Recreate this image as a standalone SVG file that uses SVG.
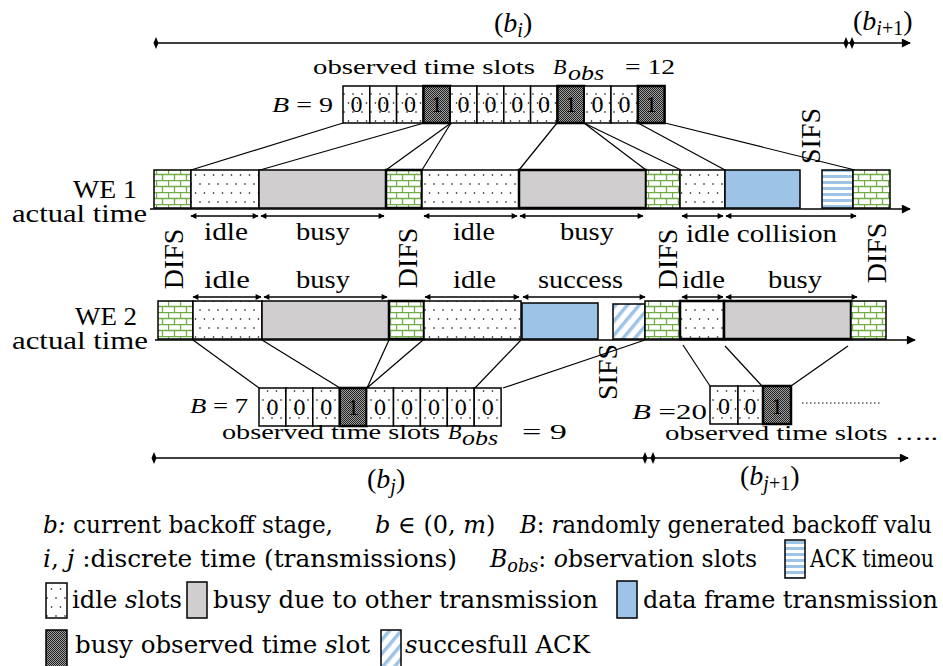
<svg xmlns="http://www.w3.org/2000/svg" width="943" height="666" viewBox="0 0 943 666">
<style>
.t{font-family:"Liberation Serif","Times New Roman",serif;font-size:28px;fill:#000}
.s{font-family:"Liberation Serif","Times New Roman",serif;font-size:25px;fill:#000}
.m{font-family:"Liberation Serif","Times New Roman",serif;font-size:22px;fill:#000}
.lg{font-family:"DejaVu Serif","Liberation Serif",serif;font-size:24px;fill:#000}
.it{font-style:italic}
.d{font-family:"Liberation Serif",serif;font-size:24px;text-anchor:middle}
.box{stroke:#000;stroke-width:1.5}
.thk{stroke:#000;stroke-width:2.5}
.c{stroke:#000;stroke-width:1.2;fill:none}
.ax{stroke:#000;stroke-width:1.6;fill:none}
.da{stroke:#000;stroke-width:1.3;fill:none;marker-start:url(#ah);marker-end:url(#ah)}
</style>
<defs>
<pattern id="brick" width="12" height="12" patternUnits="userSpaceOnUse">
<rect width="12" height="12" fill="#fff"/>
<path d="M0 0.5H12M0 6.5H12M0.5 0.5V6.5M6.5 6.5V12.5" stroke="#70ad47" stroke-width="1.3" fill="none"/>
</pattern>
<pattern id="dots" width="9" height="18" patternUnits="userSpaceOnUse">
<rect width="9" height="18" fill="#fff"/>
<circle cx="2" cy="4" r="0.8" fill="#000"/>
<circle cx="6.5" cy="13" r="0.8" fill="#000"/>
</pattern>
<pattern id="dark" width="2" height="2" patternUnits="userSpaceOnUse">
<rect width="2" height="2" fill="#a0a0a0"/>
<rect width="1" height="1" fill="#222"/>
<rect x="1" y="1" width="1" height="1" fill="#222"/>
</pattern>
<pattern id="hs" width="6" height="6" patternUnits="userSpaceOnUse">
<rect width="6" height="6" fill="#fff"/>
<rect y="1" width="6" height="3" fill="#9dc3e6"/>
</pattern>
<pattern id="ds" width="9" height="9" patternUnits="userSpaceOnUse" patternTransform="rotate(40)">
<rect width="9" height="9" fill="#fff"/>
<rect width="3.5" height="9" fill="#9dc3e6"/>
</pattern>
<marker id="ah" viewBox="0 0 10 10" refX="9" refY="5" markerWidth="7" markerHeight="6" markerUnits="userSpaceOnUse" orient="auto-start-reverse">
<path d="M0 0L10 5L0 10z" fill="#000"/>
</marker>
<marker id="axh" viewBox="0 0 10 10" refX="9" refY="5" markerWidth="12" markerHeight="9" markerUnits="userSpaceOnUse" orient="auto">
<path d="M0 0L10 5L0 10z" fill="#000"/>
</marker>
</defs>

<g id="timeline-top">
<line class="ax" x1="156" y1="43" x2="910" y2="43" marker-end="url(#axh)"/>
<path d="M156 37L158.5 43L156 49L153.5 43z M846 37L848.5 43L846 49L843.5 43z M852 37L854.5 43L852 49L849.5 43z" fill="#000"/>
<text class="t" x="494" y="32">(<tspan class="it">b</tspan><tspan class="it" font-size="20" dy="5">i</tspan><tspan dy="-5">)</tspan></text>
<text class="t" x="853" y="30">(<tspan class="it">b</tspan><tspan class="it" font-size="20" dy="5">i</tspan><tspan font-size="20">+1</tspan><tspan dy="-5">)</tspan></text>
</g>

<g id="slots-top">
<text class="m" x="313" y="74" textLength="222" lengthAdjust="spacingAndGlyphs">observed time slots</text>
<text class="m it" x="553" y="74" font-size="24">B</text>
<text class="m it" x="568" y="80" font-size="20" textLength="36" lengthAdjust="spacingAndGlyphs">obs</text>
<text class="m" x="625" y="74" font-size="24" textLength="50" lengthAdjust="spacingAndGlyphs">= 12</text>
<text class="m" x="272" y="112" textLength="61" lengthAdjust="spacingAndGlyphs"><tspan class="it">B</tspan> = 9</text>
<g>
<rect class="box" x="343" y="86" width="26.8" height="37" fill="url(#dots)"/>
<rect class="box" x="369.8" y="86" width="26.8" height="37" fill="url(#dots)"/>
<rect class="box" x="396.6" y="86" width="26.8" height="37" fill="url(#dots)"/>
<rect class="thk" x="423.4" y="86" width="26.8" height="37" fill="url(#dark)"/>
<rect class="box" x="450.2" y="86" width="26.8" height="37" fill="url(#dots)"/>
<rect class="box" x="477" y="86" width="26.8" height="37" fill="url(#dots)"/>
<rect class="box" x="503.8" y="86" width="26.8" height="37" fill="url(#dots)"/>
<rect class="box" x="530.6" y="86" width="26.8" height="37" fill="url(#dots)"/>
<rect class="thk" x="557.4" y="86" width="26.8" height="37" fill="url(#dark)"/>
<rect class="box" x="584.2" y="86" width="26.8" height="37" fill="url(#dots)"/>
<rect class="box" x="611" y="86" width="26.8" height="37" fill="url(#dots)"/>
<rect class="thk" x="637.8" y="86" width="26.8" height="37" fill="url(#dark)"/>
</g>
<g class="d">
<text x="356.4" y="112">0</text><text x="383.2" y="112">0</text><text x="410" y="112">0</text><text x="436.8" y="112">1</text>
<text x="463.6" y="112">0</text><text x="490.4" y="112">0</text><text x="517.2" y="112">0</text><text x="544" y="112">0</text>
<text x="570.8" y="112">1</text><text x="597.6" y="112">0</text><text x="624.4" y="112">0</text><text x="651.2" y="112">1</text>
</g>
</g>

<g id="connectors">
<line class="c" x1="343" y1="123" x2="191" y2="170"/>
<line class="c" x1="424" y1="123" x2="260" y2="170"/>
<line class="c" x1="451" y1="123" x2="386" y2="170"/>
<line class="c" x1="451" y1="123" x2="422" y2="170"/>
<line class="c" x1="557" y1="123" x2="519" y2="170"/>
<line class="c" x1="584" y1="123" x2="646" y2="170"/>
<line class="c" x1="584" y1="123" x2="681" y2="170"/>
<line class="c" x1="638" y1="123" x2="725" y2="170"/>
<line class="c" x1="665" y1="123" x2="855" y2="170"/>
<line class="c" x1="193" y1="340" x2="259" y2="388"/>
<line class="c" x1="262" y1="340" x2="340" y2="388"/>
<line class="c" x1="389" y1="340" x2="367" y2="388"/>
<line class="c" x1="423" y1="340" x2="367" y2="388"/>
<line class="c" x1="521" y1="340" x2="475" y2="388"/>
<line class="c" x1="645" y1="340" x2="503" y2="388"/>
<line class="c" x1="683" y1="345" x2="710" y2="386"/>
<line class="c" x1="725" y1="346" x2="762" y2="386"/>
<line class="c" x1="848" y1="346" x2="791" y2="386"/>
</g>

<g id="we1">
<text class="s" x="137" y="198" text-anchor="end" textLength="64" lengthAdjust="spacingAndGlyphs">WE 1</text>
<text class="s" x="147" y="222" text-anchor="end" textLength="135" lengthAdjust="spacingAndGlyphs">actual time</text>
<line class="ax" x1="150" y1="209" x2="910" y2="209" marker-end="url(#axh)"/>
<rect class="box" x="154" y="170" width="37" height="38" fill="url(#brick)"/>
<rect class="box" x="191" y="170" width="68" height="38" fill="url(#dots)"/>
<rect class="box" x="259" y="170" width="127" height="38" fill="#d0cece"/>
<rect class="thk" x="386" y="170" width="36" height="38" fill="url(#brick)"/>
<rect class="box" x="422" y="170" width="97" height="38" fill="url(#dots)"/>
<rect class="thk" x="519" y="170" width="127" height="38" fill="#d0cece"/>
<rect class="box" x="646" y="170" width="34" height="38" fill="url(#brick)"/>
<rect class="box" x="680" y="170" width="45" height="38" fill="url(#dots)"/>
<rect class="box" x="725" y="170" width="75" height="38" fill="#9dc3e6"/>
<rect class="box" x="822" y="170" width="31" height="38" fill="url(#hs)"/>
<rect class="box" x="853" y="170" width="37" height="38" fill="url(#brick)"/>
<line class="da" x1="191" y1="216" x2="258" y2="216"/>
<line class="da" x1="261" y1="216" x2="384" y2="216"/>
<line class="da" x1="424" y1="216" x2="517" y2="216"/>
<line class="da" x1="520" y1="216" x2="643" y2="216"/>
<line class="da" x1="682" y1="216" x2="723" y2="216"/>
<line class="da" x1="726" y1="216" x2="856" y2="216"/>
<g class="s">
<text x="204" y="240" textLength="44" lengthAdjust="spacingAndGlyphs">idle</text>
<text x="296" y="240" textLength="54" lengthAdjust="spacingAndGlyphs">busy</text>
<text x="453" y="240" textLength="42" lengthAdjust="spacingAndGlyphs">idle</text>
<text x="560" y="240" textLength="54" lengthAdjust="spacingAndGlyphs">busy</text>
<text x="686" y="242" textLength="151" lengthAdjust="spacingAndGlyphs">idle collision</text>
</g>
<text class="t" text-anchor="middle" transform="translate(820,136) rotate(-90)">SIFS</text>
</g>

<g id="difs-labels" class="t" text-anchor="middle">
<text transform="translate(183,259) rotate(-90)">DIFS</text>
<text transform="translate(417,258) rotate(-90)">DIFS</text>
<text transform="translate(677,259) rotate(-90)">DIFS</text>
<text transform="translate(886,253) rotate(-90)">DIFS</text>
</g>

<g id="we2">
<text class="s" x="137" y="325" font-size="23" text-anchor="end" textLength="62" lengthAdjust="spacingAndGlyphs">WE 2</text>
<text class="s" x="148" y="349" font-size="23" text-anchor="end" textLength="136" lengthAdjust="spacingAndGlyphs">actual time</text>
<line class="ax" x1="155" y1="340" x2="915" y2="340" marker-end="url(#axh)"/>
<rect class="box" x="158" y="301" width="35" height="38" fill="url(#brick)"/>
<rect class="box" x="193" y="301" width="69" height="38" fill="url(#dots)"/>
<rect class="box" x="262" y="301" width="127" height="38" fill="#d0cece"/>
<rect class="thk" x="389" y="301" width="35" height="38" fill="url(#brick)"/>
<rect class="box" x="424" y="301" width="97" height="38" fill="url(#dots)"/>
<rect class="box" x="522" y="303" width="76" height="36" fill="#9dc3e6"/>
<rect class="box" x="613" y="304" width="32" height="35" fill="url(#ds)"/>
<rect class="box" x="645" y="301" width="35" height="38" fill="url(#brick)"/>
<rect class="thk" x="680" y="301" width="44" height="38" fill="url(#dots)"/>
<rect class="thk" x="724" y="301" width="127" height="38" fill="#d0cece"/>
<rect class="box" x="851" y="301" width="35" height="38" fill="url(#brick)"/>
<line class="da" x1="193" y1="297" x2="261" y2="297"/>
<line class="da" x1="264" y1="297" x2="387" y2="297"/>
<line class="da" x1="425" y1="297" x2="519" y2="297"/>
<line class="da" x1="523" y1="297" x2="645" y2="297"/>
<line class="da" x1="682" y1="297" x2="723" y2="297"/>
<line class="da" x1="726" y1="297" x2="857" y2="297"/>
<g class="s">
<text x="204" y="288" textLength="46" lengthAdjust="spacingAndGlyphs">idle</text>
<text x="296" y="288" textLength="54" lengthAdjust="spacingAndGlyphs">busy</text>
<text x="453" y="288" textLength="43" lengthAdjust="spacingAndGlyphs">idle</text>
<text x="538" y="288" textLength="85" lengthAdjust="spacingAndGlyphs">success</text>
<text x="682" y="288" textLength="43" lengthAdjust="spacingAndGlyphs">idle</text>
<text x="768" y="288" textLength="54" lengthAdjust="spacingAndGlyphs">busy</text>
</g>
<text class="t" text-anchor="middle" transform="translate(617,372) rotate(-90)">SIFS</text>
</g>

<g id="slots-bottom">
<text class="m" x="190" y="413" textLength="58" lengthAdjust="spacingAndGlyphs"><tspan class="it">B</tspan> = 7</text>
<rect class="box" x="259" y="388" width="26.9" height="38" fill="url(#dots)"/>
<rect class="box" x="285.9" y="388" width="26.9" height="38" fill="url(#dots)"/>
<rect class="box" x="312.8" y="388" width="26.9" height="38" fill="url(#dots)"/>
<rect class="thk" x="339.7" y="388" width="26.9" height="38" fill="url(#dark)"/>
<rect class="box" x="366.6" y="388" width="26.9" height="38" fill="url(#dots)"/>
<rect class="box" x="393.5" y="388" width="26.9" height="38" fill="url(#dots)"/>
<rect class="box" x="420.4" y="388" width="26.9" height="38" fill="url(#dots)"/>
<rect class="box" x="447.3" y="388" width="26.9" height="38" fill="url(#dots)"/>
<rect class="box" x="474.2" y="388" width="26.9" height="38" fill="url(#dots)"/>
<g class="d">
<text x="272.5" y="415">0</text><text x="299.4" y="415">0</text><text x="326.3" y="415">0</text><text x="353.2" y="415">1</text>
<text x="380.1" y="415">0</text><text x="407" y="415">0</text><text x="433.9" y="415">0</text><text x="460.8" y="415">0</text><text x="487.7" y="415">0</text>
</g>
<text class="m" x="222" y="439" font-size="21" textLength="218" lengthAdjust="spacingAndGlyphs">observed time slots</text>
<text class="m it" x="448" y="439" font-size="23">B</text>
<text class="m it" x="462" y="445" font-size="19" textLength="36" lengthAdjust="spacingAndGlyphs">obs</text>
<text class="m" x="522" y="439" font-size="23" textLength="45" lengthAdjust="spacingAndGlyphs">= 9</text>
</g>

<g id="slots-bottom2">
<text class="m" x="632" y="419" font-size="20" textLength="75" lengthAdjust="spacingAndGlyphs"><tspan class="it">B</tspan> =20</text>
<rect class="box" x="710" y="386" width="28" height="38" fill="url(#dots)"/>
<rect class="box" x="738" y="386" width="25" height="38" fill="url(#dots)"/>
<rect class="thk" x="763" y="386" width="28" height="38" fill="url(#dark)"/>
<g class="d">
<text x="724" y="414">0</text><text x="750.5" y="414">0</text><text x="777" y="414">1</text>
</g>
<line x1="802" y1="403" x2="880" y2="403" stroke="#000" stroke-width="1.2" stroke-dasharray="1.5 2.5"/>
<text class="m" x="665" y="440" font-size="19" textLength="273" lengthAdjust="spacingAndGlyphs">observed time slots …..</text>
</g>

<g id="timeline-bottom">
<line class="ax" x1="154" y1="458" x2="908" y2="458" marker-end="url(#axh)"/>
<path d="M154 452L156.5 458L154 464L151.5 458z M645 452L647.5 458L645 464L642.5 458z M653 452L655.5 458L653 464L650.5 458z" fill="#000"/>
<text class="t" x="367" y="488">(<tspan class="it">b</tspan><tspan class="it" font-size="20" dy="5">j</tspan><tspan dy="-5">)</tspan></text>
<text class="t" x="740" y="485">(<tspan class="it">b</tspan><tspan class="it" font-size="20" dy="5">j</tspan><tspan font-size="20">+1</tspan><tspan dy="-5">)</tspan></text>
</g>

<g id="legend">
<text class="lg" x="43" y="533" textLength="290" lengthAdjust="spacingAndGlyphs"><tspan class="it">b:</tspan> current backoff stage,</text>
<text class="lg" x="375" y="533"><tspan class="it">b</tspan> ∈ (0, <tspan class="it">m</tspan>)</text>
<text class="lg" x="520" y="533" font-size="22" textLength="412" lengthAdjust="spacingAndGlyphs"><tspan class="it">B</tspan>: <tspan class="it">r</tspan>andomly generated backoff valu</text>
<text class="lg" x="43" y="567" textLength="414" lengthAdjust="spacingAndGlyphs"><tspan class="it">i</tspan>, <tspan class="it">j</tspan> :discrete time (transmissions)</text>
<text class="lg" x="490" y="567" textLength="267" lengthAdjust="spacingAndGlyphs"><tspan class="it">B</tspan><tspan class="it" font-size="18" dy="5">obs</tspan><tspan dy="-5">: </tspan><tspan class="it">o</tspan>bservation slots</text>
<rect class="box" x="785" y="540" width="20" height="38" fill="url(#hs)"/>
<text class="lg" x="810" y="567" font-size="21" textLength="124" lengthAdjust="spacingAndGlyphs">ACK timeou</text>
<rect class="box" x="46" y="583" width="21" height="35" fill="url(#dots)"/>
<text class="lg" x="72" y="608" textLength="110" lengthAdjust="spacingAndGlyphs">idle <tspan class="it">s</tspan>lots</text>
<rect class="box" x="187" y="582" width="20" height="36" fill="#d0cece"/>
<text class="lg" x="213" y="608" textLength="385" lengthAdjust="spacingAndGlyphs">busy due to other transmission</text>
<rect class="box" x="617" y="581" width="20" height="37" fill="#9dc3e6"/>
<text class="lg" x="643" y="608" textLength="295" lengthAdjust="spacingAndGlyphs">data frame transmission</text>
<rect class="box" x="46" y="630" width="21" height="40" fill="url(#dark)"/>
<text class="lg" x="75" y="653" textLength="295" lengthAdjust="spacingAndGlyphs">busy observed time <tspan class="it">s</tspan>lot</text>
<rect class="box" x="381" y="630" width="20" height="40" fill="url(#ds)"/>
<text class="lg" x="405" y="653" textLength="185" lengthAdjust="spacingAndGlyphs"><tspan class="it">s</tspan>uccesfull ACK</text>
</g>
</svg>
